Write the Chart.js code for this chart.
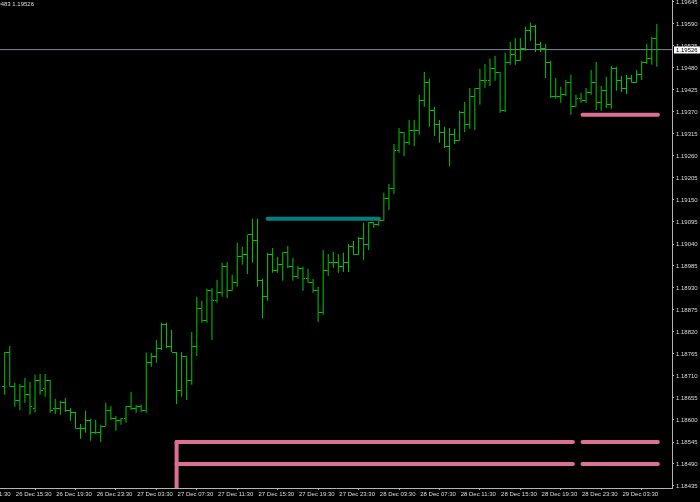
<!DOCTYPE html>
<html>
<head>
<meta charset="utf-8">
<script src="https://cdn.jsdelivr.net/npm/chart.js@4/dist/chart.umd.min.js"></script>
<style>
html,body{margin:0;padding:0;background:#000;overflow:hidden;}
#wrap{width:700px;height:502px;position:relative;}
canvas{display:block;}
</style>
</head>
<body>
<div id="wrap"><canvas id="c" width="700" height="502"></canvas></div>
<script>
// ---- data (EURUSD M30 bars) ----
const opens = [1.18683,1.18770,1.18683,1.18650,1.18683,1.18663,1.18628,1.18698,1.18678,1.18698,
1.18628,1.18630,1.18645,1.18625,1.18618,1.18578,1.18580,1.18598,1.18570,1.18568,
1.18585,1.18625,1.18603,1.18600,1.18605,1.18633,1.18628,1.18635,1.18623,1.18743,
1.18760,1.18778,1.18840,1.18783,1.18770,1.18673,1.18758,1.18700,1.18785,1.18878,
1.18848,1.18923,1.18898,1.18920,1.18983,1.18925,1.18943,1.19010,1.19015,1.19063,
1.19048,1.18948,1.18910,1.19015,1.18975,1.18990,1.19018,1.18983,1.18958,1.18980,
1.18953,1.18943,1.18925,1.18870,1.18973,1.18993,1.18995,1.18985,1.18995,1.19033,
1.19015,1.19055,1.19040,1.19093,1.19090,1.19100,1.19153,1.19178,1.19273,1.19318,
1.19293,1.19325,1.19323,1.19400,1.19445,1.19375,1.19340,1.19320,1.19283,1.19315,
1.19300,1.19368,1.19338,1.19408,1.19428,1.19450,1.19448,1.19480,1.19468,1.19373,
1.19495,1.19515,1.19500,1.19530,1.19575,1.19583,1.19538,1.19530,1.19495,1.19408,
1.19410,1.19413,1.19445,1.19385,1.19405,1.19400,1.19418,1.19445,1.19395,1.19425,
1.19390,1.19480,1.19450,1.19428,1.19455,1.19445,1.19463,1.19493,1.19503,1.19555];
const highs = [1.18770,1.18785,1.18693,1.18690,1.18705,1.18695,1.18713,1.18715,1.18715,1.18700,
1.18653,1.18648,1.18655,1.18630,1.18620,1.18590,1.18623,1.18603,1.18600,1.18588,
1.18643,1.18635,1.18610,1.18605,1.18635,1.18670,1.18638,1.18638,1.18768,1.18768,
1.18800,1.18843,1.18843,1.18825,1.18770,1.18770,1.18760,1.18820,1.18908,1.18898,
1.18928,1.18930,1.18950,1.18993,1.18995,1.18963,1.19043,1.19033,1.19063,1.19103,
1.19103,1.18953,1.19018,1.19030,1.19008,1.19020,1.19035,1.19005,1.18985,1.18983,
1.18978,1.18953,1.18933,1.19025,1.19015,1.19020,1.19015,1.19018,1.19040,1.19048,
1.19058,1.19093,1.19095,1.19095,1.19103,1.19168,1.19190,1.19290,1.19330,1.19320,
1.19350,1.19350,1.19413,1.19470,1.19453,1.19383,1.19350,1.19333,1.19330,1.19328,
1.19373,1.19395,1.19430,1.19430,1.19478,1.19490,1.19503,1.19510,1.19470,1.19518,
1.19545,1.19555,1.19555,1.19583,1.19593,1.19588,1.19545,1.19540,1.19498,1.19455,
1.19433,1.19450,1.19463,1.19413,1.19418,1.19430,1.19475,1.19495,1.19435,1.19458,
1.19485,1.19483,1.19460,1.19463,1.19463,1.19475,1.19498,1.19540,1.19558,1.19590];
const lows = [1.18663,1.18683,1.18633,1.18625,1.18643,1.18613,1.18620,1.18663,1.18658,1.18618,
1.18615,1.18613,1.18620,1.18598,1.18578,1.18553,1.18568,1.18548,1.18565,1.18545,
1.18585,1.18600,1.18573,1.18588,1.18593,1.18625,1.18618,1.18620,1.18618,1.18733,
1.18743,1.18775,1.18780,1.18770,1.18640,1.18658,1.18650,1.18688,1.18760,1.18843,
1.18843,1.18800,1.18893,1.18908,1.18905,1.18923,1.18933,1.18988,1.18965,1.18993,
1.18933,1.18855,1.18898,1.18968,1.18968,1.18948,1.18980,1.18948,1.18953,1.18923,
1.18943,1.18918,1.18845,1.18863,1.18960,1.18980,1.18968,1.18970,1.18970,1.19013,
1.19013,1.19000,1.19025,1.19080,1.19085,1.19098,1.19125,1.19165,1.19268,1.19260,
1.19288,1.19285,1.19313,1.19383,1.19333,1.19310,1.19293,1.19280,1.19235,1.19290,
1.19298,1.19320,1.19328,1.19325,1.19388,1.19430,1.19435,1.19448,1.19368,1.19370,
1.19488,1.19488,1.19498,1.19523,1.19548,1.19520,1.19520,1.19455,1.19405,1.19403,
1.19393,1.19410,1.19363,1.19383,1.19393,1.19393,1.19413,1.19375,1.19373,1.19380,
1.19378,1.19423,1.19420,1.19415,1.19443,1.19443,1.19450,1.19490,1.19488,1.19483];
const closes = [1.18770,1.18683,1.18650,1.18683,1.18663,1.18633,1.18698,1.18675,1.18698,1.18625,
1.18630,1.18645,1.18625,1.18618,1.18578,1.18580,1.18598,1.18570,1.18568,1.18585,
1.18625,1.18603,1.18600,1.18605,1.18633,1.18628,1.18635,1.18623,1.18743,1.18760,
1.18778,1.18840,1.18783,1.18770,1.18673,1.18758,1.18700,1.18785,1.18878,1.18848,
1.18923,1.18898,1.18920,1.18983,1.18925,1.18943,1.19010,1.19015,1.19063,1.19048,
1.18948,1.18910,1.19015,1.18975,1.18990,1.19018,1.18983,1.18958,1.18980,1.18953,
1.18943,1.18925,1.18870,1.18973,1.18993,1.18995,1.18985,1.18995,1.19033,1.19015,
1.19055,1.19040,1.19093,1.19090,1.19100,1.19153,1.19178,1.19273,1.19318,1.19293,
1.19325,1.19323,1.19400,1.19445,1.19375,1.19340,1.19320,1.19283,1.19315,1.19300,
1.19368,1.19338,1.19408,1.19428,1.19450,1.19448,1.19480,1.19468,1.19373,1.19495,
1.19515,1.19500,1.19530,1.19575,1.19583,1.19538,1.19530,1.19495,1.19408,1.19410,
1.19413,1.19445,1.19385,1.19405,1.19400,1.19418,1.19445,1.19395,1.19425,1.19390,
1.19480,1.19450,1.19428,1.19455,1.19445,1.19463,1.19493,1.19503,1.19555,1.19526];

const yTickValues = [1.18435,1.18490,1.18545,1.18600,1.18655,1.18710,1.18765,1.18820,1.18875,1.18930,
1.18985,1.19040,1.19095,1.19150,1.19205,1.19260,1.19315,1.19370,1.19425,1.19480,1.19535,1.19590,1.19645];
const xTickBars = [-6,2,10,18,26,34,42,50,58,66,74,82,90,98,106,114,122];
const xTickLabels = ['26 Dec 11:30','26 Dec 15:30','26 Dec 19:30','26 Dec 23:30','27 Dec 03:30','27 Dec 07:30',
'27 Dec 11:30','27 Dec 15:30','27 Dec 19:30','27 Dec 23:30','28 Dec 03:30','28 Dec 07:30','28 Dec 11:30',
'28 Dec 15:30','28 Dec 19:30','28 Dec 23:30','29 Dec 03:30'];

const lastPrice = 1.19526;
const infoText = 'EURUSD,M30 1.19555 1.19590 1.19483 1.19526';

// horizontal level objects: price and [fromBar, toBar]
const tealPrices = [1.19103];
const tealSpans = [[52, 74]];
const pinkPrices = [1.19363, 1.18545, 1.18545, 1.18490, 1.18490];
const pinkSpans = [[114.3,129.2],[34,112.4],[114.3,129.2],[34,112.4],[114.3,129.2]];
const pinkVerticalBar = 34;
const pinkVerticalTop = 1.18545;

// ---- axis ranges ----
const X_MIN = -0.93, X_MAX = 132.0;
const Y_MIN = 1.1843, Y_MAX = 1.1965;

// ---- styles ----
const BAR_COLOR = '#00c800';
const TEAL = '#008080';
const PINK = '#db7093';
const AXIS_COLOR = '#b4b4b4';
const TEXT_COLOR = '#dcdcdc';
const FONT = {family:'Liberation Sans', size:6};

function tickImage(side){
  const c = document.createElement('canvas');
  c.width = 5; c.height = 1;
  const g = c.getContext('2d');
  g.fillStyle = BAR_COLOR;
  if (side === 'open') g.fillRect(0,0,2,1); else g.fillRect(3,0,2,1);
  return c;
}

const levelDatasets = [];
tealPrices.forEach((p,k)=>{
  levelDatasets.push({type:'line', data:[{x:tealSpans[k][0],y:p},{x:tealSpans[k][1],y:p}],
    borderColor:TEAL, borderWidth:4, borderCapStyle:'round', pointRadius:0, order:0});
});
pinkPrices.forEach((p,k)=>{
  levelDatasets.push({type:'line', data:[{x:pinkSpans[k][0],y:p},{x:pinkSpans[k][1],y:p}],
    borderColor:PINK, borderWidth:4, borderCapStyle:'round', pointRadius:0, order:0});
});
levelDatasets.push({type:'line', data:[{x:pinkVerticalBar,y:pinkVerticalTop},{x:pinkVerticalBar,y:Y_MIN}],
  borderColor:PINK, borderWidth:4, borderCapStyle:'round', pointRadius:0, order:0});

const overlay = {
  id:'overlay',
  beforeDraw(chart){
    const {ctx,width,height} = chart;
    ctx.save(); ctx.fillStyle='#000'; ctx.fillRect(0,0,width,height); ctx.restore();
  },
  afterDraw(chart){
    const {ctx, chartArea} = chart;
    const y = chart.scales.y.getPixelForValue(lastPrice);
    ctx.save();
    ctx.fillStyle = '#ffffff';
    ctx.fillRect(chartArea.right + 2, Math.round(y) - 3.5, 26, 7);
    ctx.fillStyle = '#000000';
    ctx.font = '6px "Liberation Sans"';
    ctx.textBaseline = 'middle';
    ctx.textAlign = 'left';
    ctx.fillText(lastPrice.toFixed(5), chartArea.right + 4, Math.round(y));
    ctx.fillStyle = TEXT_COLOR;
    ctx.textAlign = 'right';
    ctx.fillText(infoText, 34, 4);
    ctx.restore();
  }
};

new Chart(document.getElementById('c'), {
  type:'bar',
  data:{
    datasets:[
      ...levelDatasets,
      {type:'scatter', data:opens.map((v,i)=>({x:i,y:v})), pointStyle:tickImage('open'), pointRadius:1, hoverRadius:1, order:1},
      {type:'scatter', data:closes.map((v,i)=>({x:i,y:v})), pointStyle:tickImage('close'), pointRadius:1, hoverRadius:1, order:1},
      {type:'bar', data:highs.map((h,i)=>({x:i,y:[lows[i],h]})), backgroundColor:BAR_COLOR, borderWidth:0,
        barThickness:1, inflateAmount:0, grouped:false, order:2},
      {type:'line', data:[{x:X_MIN,y:lastPrice},{x:X_MAX,y:lastPrice}], borderColor:'#7a8797', borderWidth:1,
        pointRadius:0, order:3}
    ]
  },
  options:{
    responsive:false, animation:false, devicePixelRatio:1, events:[],
    layout:{padding:0, autoPadding:false},
    plugins:{legend:{display:false}, tooltip:{enabled:false}, title:{display:false}},
    scales:{
      x:{type:'linear', min:X_MIN, max:X_MAX, bounds:'data', offset:false,
        grid:{drawOnChartArea:false, drawTicks:true, tickLength:2, color:AXIS_COLOR},
        border:{display:true, color:AXIS_COLOR},
        ticks:{autoSkip:false, maxRotation:0, minRotation:0, align:'start', padding:1, labelOffset:1,
          color:TEXT_COLOR, font:FONT, callback:(v,i)=>xTickLabels[i]},
        afterBuildTicks:s=>{ s.ticks = xTickBars.map(v=>({value:v})); },
        afterFit:s=>{ s.height = 14; s.paddingLeft=0; s.paddingRight=0; }
      },
      y:{type:'linear', position:'right', min:Y_MIN, max:Y_MAX, bounds:'data',
        grid:{drawOnChartArea:false, drawTicks:true, tickLength:2, color:AXIS_COLOR},
        border:{display:true, color:AXIS_COLOR},
        ticks:{autoSkip:false, padding:2, color:TEXT_COLOR, font:FONT, callback:v=>v.toFixed(5)},
        afterBuildTicks:s=>{ s.ticks = yTickValues.map(v=>({value:v})); },
        afterFit:s=>{ s.width = 28; s.paddingTop=0; s.paddingBottom=0; }
      }
    }
  },
  plugins:[overlay]
});
</script>
</body>
</html>
